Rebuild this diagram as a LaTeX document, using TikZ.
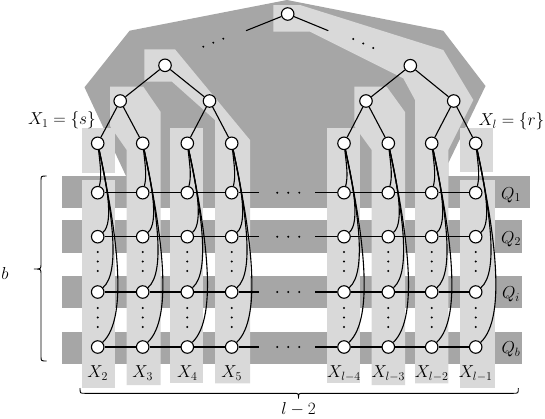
\documentclass[tikz,border=0pt]{standalone}
\usetikzlibrary{calc}
\definecolor{dk}{HTML}{A6A6A6}
\definecolor{lt}{HTML}{D9D9D9}
\begin{document}
\begin{tikzpicture}[x=1pt,y=-1pt,
  vtx/.style={circle,draw=black,fill=white,line width=1.1pt,minimum size=12.5pt,inner sep=0pt},
  edge/.style={line width=1.1pt},
  lbl/.style={inner sep=0pt,anchor=base,font=\fontsize{17.5}{20}\selectfont},
  dotc/.style={circle,fill=black,inner sep=0pt,minimum size=2.2pt}
]
\path[use as bounding box] (0,0) rectangle (545,418);
% dark Q bands
\fill[dk] (61.7,176) rectangle (530,207.7);
\fill[dk] (61.7,220) rectangle (521.7,253.3);
\fill[dk] (61.7,276) rectangle (521.7,308.3);
\fill[dk] (61.7,331.7) rectangle (521.7,364.3);
% hull
\fill[dk] (287,0) -- (443.2,30.7) -- (485.5,86) -- (448.3,163) -- (448.3,180) -- (126,180) -- (126,176) -- (84.5,87.3) -- (129.6,30.7) -- cycle;
% light bags
\fill[lt] (81.7,128.3) rectangle (115,173.3);
\fill[lt] (81.7,180) rectangle (115,388.3);
\fill[lt] (110,86.7) -- (143.3,86.7) -- (160.7,112) -- (160.7,385) -- (126.7,385) -- (126.7,150) -- (110,126) -- cycle;
\fill[lt] (170,128.3) rectangle (203.3,383.3);
\fill[lt] (144.3,49.3) -- (175,49.3) -- (250,140) -- (250,383.3) -- (215,383.3) -- (215,120) -- (172,81.7) -- (144.3,81.7) -- cycle;
\fill[lt] (326.7,128.3) rectangle (360,383.3);
\fill[lt] (354.3,86.7) -- (386.7,86.7) -- (405,112) -- (405,385) -- (371.7,385) -- (371.7,150) -- (354.3,126) -- cycle;
\fill[lt] (273.3,5) -- (300,5) -- (443.3,50) -- (473.3,100) -- (448.3,150) -- (448.3,383.3) -- (415,383.3) -- (415,100) -- (403.3,78.3) -- (310,31.7) -- (273.3,31.7) -- cycle;
\fill[lt] (460,180) rectangle (495,388.3);
\fill[lt] (460,128.3) rectangle (493.3,171.7);

% tree nodes
\node[vtx] (R) at (287.7,14) {};
\node[vtx] (G1) at (165,65.3) {};
\node[vtx] (G2) at (410.3,65.7) {};
\node[vtx] (P1) at (120.2,101) {};
\node[vtx] (P2) at (209.5,101) {};
\node[vtx] (P3) at (366,101) {};
\node[vtx] (P4) at (453.7,101) {};
\foreach \i/\x in {1/97.7,2/142.7,3/187.3,4/231.7,5/344,6/388.3,7/431.7,8/475.7}{
  \node[vtx] (L\i) at (\x,143.3) {};
  \foreach \j/\y in {1/192.7,2/236.7,3/292,4/347}{
    \node[vtx] (N\i\j) at (\x,\y) {};
  }
  \foreach \y in {252,261.5,271,308,317.5,327}{
    \node[dotc] at (\x,\y) {};
  }
}
\coordinate (rl) at (246,30.7);
\coordinate (rr) at (328.3,30.7);
\draw[edge] (R) -- (rl);
\draw[edge] (R) -- (rr);
\draw[edge] (G1) -- (P1); \draw[edge] (G1) -- (P2);
\draw[edge] (G2) -- (P3); \draw[edge] (G2) -- (P4);
\draw[edge] (P1) -- (L1); \draw[edge] (P1) -- (L2);
\draw[edge] (P2) -- (L3); \draw[edge] (P2) -- (L4);
\draw[edge] (P3) -- (L5); \draw[edge] (P3) -- (L6);
\draw[edge] (P4) -- (L7); \draw[edge] (P4) -- (L8);
% tree dots
\foreach \p in {(203.3,46.7),(213.3,42.7),(223.3,38.7),(353.3,39),(363.3,43.5),(373.3,48)}{
  \node[dotc] at \p {};
}
% rows
\foreach \j/\y in {1/192.7,2/236.7,3/292,4/347}{
  \draw[edge] (N1\j) -- (N2\j); \draw[edge] (N2\j) -- (N3\j); \draw[edge] (N3\j) -- (N4\j);
  \draw[edge] (N5\j) -- (N6\j); \draw[edge] (N6\j) -- (N7\j); \draw[edge] (N7\j) -- (N8\j);
  \coordinate (hl\j) at (259.3,\y);
  \coordinate (hr\j) at (315,\y);
  \draw[edge] (N4\j) -- (hl\j);
  \draw[edge] (hr\j) -- (N5\j);
  \foreach \x in {277.3,288.3,299.3}{\node[dotc] at (\x,\y) {};}
}
% leaf to column edges
\foreach \i in {1,...,8}{
  \draw[edge] (L\i) .. controls +(3,25) and +(4,-16) .. (N\i1);
  \draw[edge] (L\i) .. controls +(8,36) and +(17,-14) .. (N\i2);
  \draw[edge] (L\i) .. controls +(13,62) and +(24,-20) .. (N\i3);
  \draw[edge] (L\i) .. controls +(18,84) and +(32,-30) .. (N\i4);
}
% labels
\node[lbl] (x1) at (62,124.5) {$X_1=\{s\}$};
\node[lbl] (xl) at (511.5,125.5) {$X_l=\{r\}$};
\foreach \i/\x/\t in {1/97.7/2,2/142.7/3,3/187.3/4,4/231.7/5,5/344/{l-4},6/388.3/{l-3},7/431.7/{l-2},8/475.7/{l-1}}{
  \node[lbl] (XL\i) at (\x,377.5) {$X_{\t}$};
}
\foreach \j/\y/\t in {1/192.7/1,2/236.7/2,3/292/i,4/347/b}{
  \node[lbl] (QL\j) at (511,\y+6.5) {$Q_{\t}$};
}
\node[lbl] (bl) at (5,279.5) {$b$};
\node[lbl] (ll) at (298.5,414.5) {$l-2$};
% braces
\draw[line width=0.9pt] (46.7,176) .. controls (41,176) .. (41,181) -- (41,264) .. controls (41,269) .. (34,269) .. controls (41,269) .. (41,274) -- (41,356) .. controls (41,361) .. (46.7,361);
\draw[line width=0.9pt] (80,388) .. controls (80,393.3) .. (85,393.3) -- (293.5,393.3) .. controls (298.5,393.3) .. (298.5,398.5) .. controls (298.5,393.3) .. (303.5,393.3) -- (513.3,393.3) .. controls (518.3,393.3) .. (518.3,388);
\end{tikzpicture}
\end{document}
